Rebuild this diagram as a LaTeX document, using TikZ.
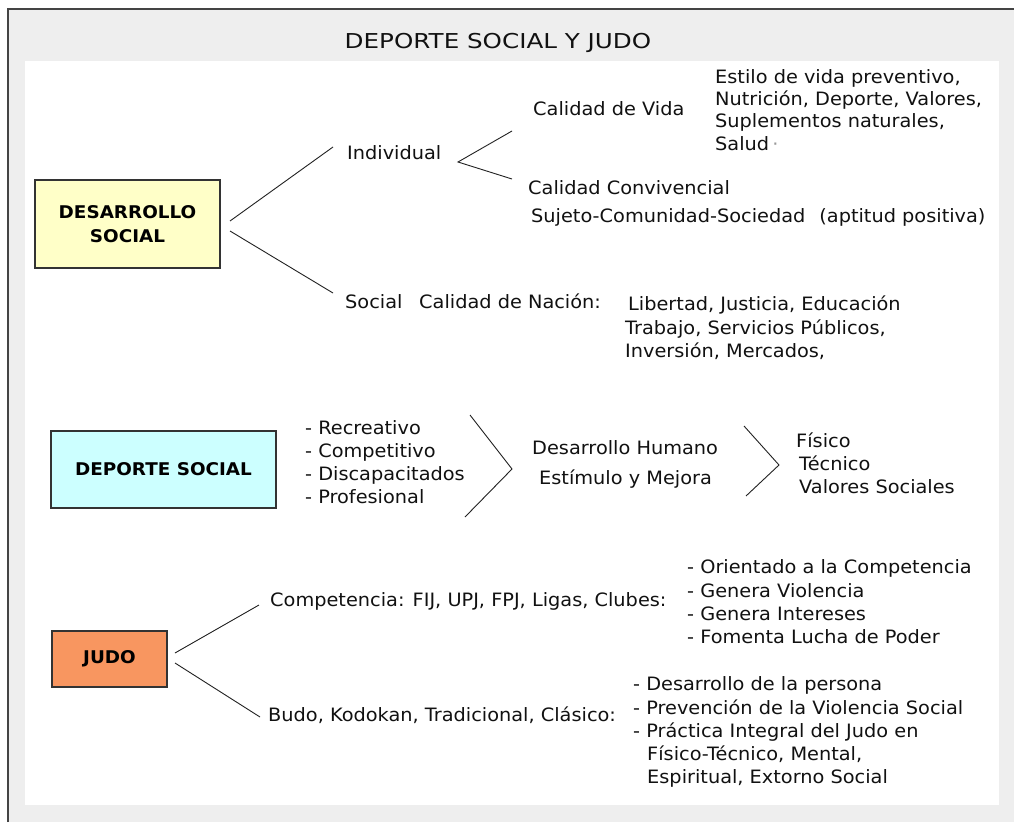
\documentclass[tikz,border=0pt]{standalone}
\usepackage{fontspec}
\setmainfont{DejaVu Sans}[FakeStretch=1.05]
\newfontfamily\titlefont{DejaVu Sans}[FakeStretch=1.2]
\definecolor{panelgray}{HTML}{EEEEEE}
\definecolor{framegray}{HTML}{444444}
\definecolor{dsyellow}{RGB}{255,255,200}
\definecolor{dscyan}{RGB}{204,255,255}
\definecolor{judoorange}{RGB}{248,150,96}
\definecolor{inkline}{HTML}{222222}
\definecolor{inktext}{HTML}{111111}
\begin{document}
\begin{tikzpicture}[x=1pt,y=-1pt,
  txt/.style={anchor=west, inner sep=0pt, text height=13.4pt, text depth=0pt,
    font=\fontsize{18.4}{22.8}\selectfont, text=inktext},
  boxlabel/.style={draw=black!80, line width=1.5pt, inner sep=0pt, align=center,
    font=\bfseries\fontsize{17.5}{24}\selectfont},
  conn/.style={draw=inkline, line width=0.9pt}]
\useasboundingbox (0,0) rectangle (1014,822);
\fill[white] (0,0) rectangle (1014,822);
\fill[panelgray] (7.5,9) rectangle (1014,822);
\draw[framegray, line width=2pt] (7.5,822) -- (7.5,9) -- (1014,9);
\fill[white] (25,60.5) rectangle (999,805);

% title
\node[inner sep=0pt, text height=14.9pt, text depth=0pt, text=inktext,
  font=\titlefont\fontsize{20.5}{24}\selectfont] (title) at (498,41) {DEPORTE SOCIAL Y JUDO};

% ---------- DESARROLLO SOCIAL ----------
\node[boxlabel, fill=dsyellow, minimum width=185pt, minimum height=88pt] (ds) at (127.5,224) {DESARROLLO\\SOCIAL};
\node[txt] (ind) at (347,153) {Individual};
\coordinate (dsA) at (230,221);
\coordinate (dsB) at (230,231);
\coordinate (indEnd) at (333,147);
\coordinate (socEnd) at (333,293);
\draw[conn] (dsA) -- (indEnd);
\draw[conn] (dsB) -- (socEnd);

\coordinate (forkV) at (458,162);
\coordinate (forkU) at (512,131);
\coordinate (forkL) at (512,179);
\draw[conn] (forkU) -- (forkV) -- (forkL);

\node[txt] (cvida) at (533,109) {Calidad de Vida};
\node[txt] (est1) at (715,76.5) {Estilo de vida preventivo,};
\node[txt] (est2) at (715,98.8) {Nutrición, Deporte, Valores,};
\node[txt] (est3) at (715,121.1) {Suplementos naturales,};
\node[txt] (est4) at (715,143.4) {Salud\,{\color{black!40}·}};

\node[txt] (cconv) at (528,188) {Calidad Convivencial};
\node[txt] (suj) at (531,216) {Sujeto-Comunidad-Sociedad\hspace{14pt}(aptitud positiva)};

\node[txt] (soc) at (345,302) {Social};
\node[txt] (cnac) at (419,302) {Calidad de Nación:};
\node[txt] (nac1) at (628,304) {Libertad, Justicia, Educación};
\node[txt] (nac2) at (625,327.5) {Trabajo, Servicios Públicos,};
\node[txt] (nac3) at (625,350.5) {Inversión, Mercados,};

% ---------- DEPORTE SOCIAL ----------
\node[boxlabel, fill=dscyan, minimum width=225pt, minimum height=77pt] (dep) at (163.5,469.5) {DEPORTE SOCIAL};
\node[txt] (rec) at (305,427.3) {- Recreativo};
\node[txt] (comp) at (305,450.6) {- Competitivo};
\node[txt] (disc) at (305,473.9) {- Discapacitados};
\node[txt] (prof) at (305,497.2) {- Profesional};

\coordinate (br1U) at (470,415);
\coordinate (br1V) at (512,469);
\coordinate (br1L) at (465,517);
\draw[conn] (br1U) -- (br1V) -- (br1L);

\node[txt] (dh) at (532,448) {Desarrollo Humano};
\node[txt] (em) at (539,478) {Estímulo y Mejora};

\coordinate (br2U) at (744,426);
\coordinate (br2V) at (779,465);
\coordinate (br2L) at (746,496);
\draw[conn] (br2U) -- (br2V) -- (br2L);

\node[txt] (fis) at (796,441) {Físico};
\node[txt] (tec) at (799,464) {Técnico};
\node[txt] (vs) at (799,487) {Valores Sociales};

% ---------- JUDO ----------
\node[boxlabel, fill=judoorange, minimum width=115pt, minimum height=56pt] (judo) at (109.5,659) {JUDO};
\coordinate (jA) at (175,653);
\coordinate (jB) at (175,663);
\coordinate (compEnd) at (259,605);
\coordinate (budoEnd) at (260,717);
\draw[conn] (jA) -- (compEnd);
\draw[conn] (jB) -- (budoEnd);

\node[txt] (compet) at (270,600) {Competencia: FIJ, UPJ, FPJ, Ligas, Clubes:};
\node[txt] (c1) at (687,567) {- Orientado a la Competencia};
\node[txt] (c2) at (687,590.3) {- Genera Violencia};
\node[txt] (c3) at (687,613.6) {- Genera Intereses};
\node[txt] (c4) at (687,636.9) {- Fomenta Lucha de Poder};

\node[txt] (budo) at (268,715) {Budo, Kodokan, Tradicional, Clásico:};
\node[txt] (b1) at (633,684) {- Desarrollo de la persona};
\node[txt] (b2) at (633,707.3) {- Prevención de la Violencia Social};
\node[txt] (b3) at (633,730.6) {- Práctica Integral del Judo en};
\node[txt] (b4) at (647,753.9) {Físico-Técnico, Mental,};
\node[txt] (b5) at (647,777.2) {Espiritual, Extorno Social};
\end{tikzpicture}
\end{document}
